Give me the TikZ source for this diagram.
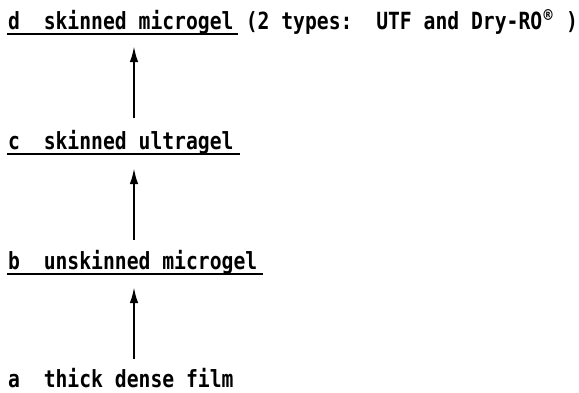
\documentclass[tikz,border=0pt]{standalone}
\usepackage{fontspec}
\setmonofont{DejaVu Sans Mono}
\usetikzlibrary{arrows.meta,calc}
\tikzset{
  lbl/.style={anchor=base west, inner sep=0pt, font=\ttfamily\bfseries\fontsize{19.7}{22}\selectfont},
  uline/.style={line width=2pt},
  arr/.style={line width=2.2pt, -{Latex[length=16pt,width=8.5pt]}},
}
\newcommand{\tall}[1]{\scalebox{1}[1.2]{#1}}
\newcommand{\regmark}{\makebox[0.602em][c]{\raisebox{0.3em}{\fontsize{15}{15}\selectfont ®}}}
\begin{document}
\begin{tikzpicture}[x=1pt,y=-1pt]
\useasboundingbox (0,0) rectangle (579,392);
\node[lbl] (d) at (8,29) {\tall{d\ \ skinned microgel}};
\node[lbl] (dn) at (d.base east) {\tall{\ (2 types:\ \ UTF and Dry-RO\regmark\ )}};
\node[lbl] (c) at (8,149) {\tall{c\ \ skinned ultragel}};
\node[lbl] (b) at (8,269) {\tall{b\ \ unskinned microgel}};
\node[lbl] (a) at (8,387) {\tall{a\ \ thick dense film}};
\draw[uline] ($(d.base west)+(-1,5)$) -- ($(d.base east)+(4,5)$);
\draw[uline] ($(c.base west)+(-1,4.5)$) -- ($(c.base east)+(6,4.5)$);
\draw[uline] ($(b.base west)+(-1,5)$) -- ($(b.base east)+(6,5)$);
\coordinate (a0) at (134,359);
\coordinate (b1) at (134,287);
\coordinate (b0) at (134,240);
\coordinate (c1) at (134,168);
\coordinate (c0) at (134,118);
\coordinate (d1) at (134,46);
\draw[arr] (a0) -- (b1);
\draw[arr] (b0) -- (c1);
\draw[arr] (c0) -- (d1);
\end{tikzpicture}
\end{document}
